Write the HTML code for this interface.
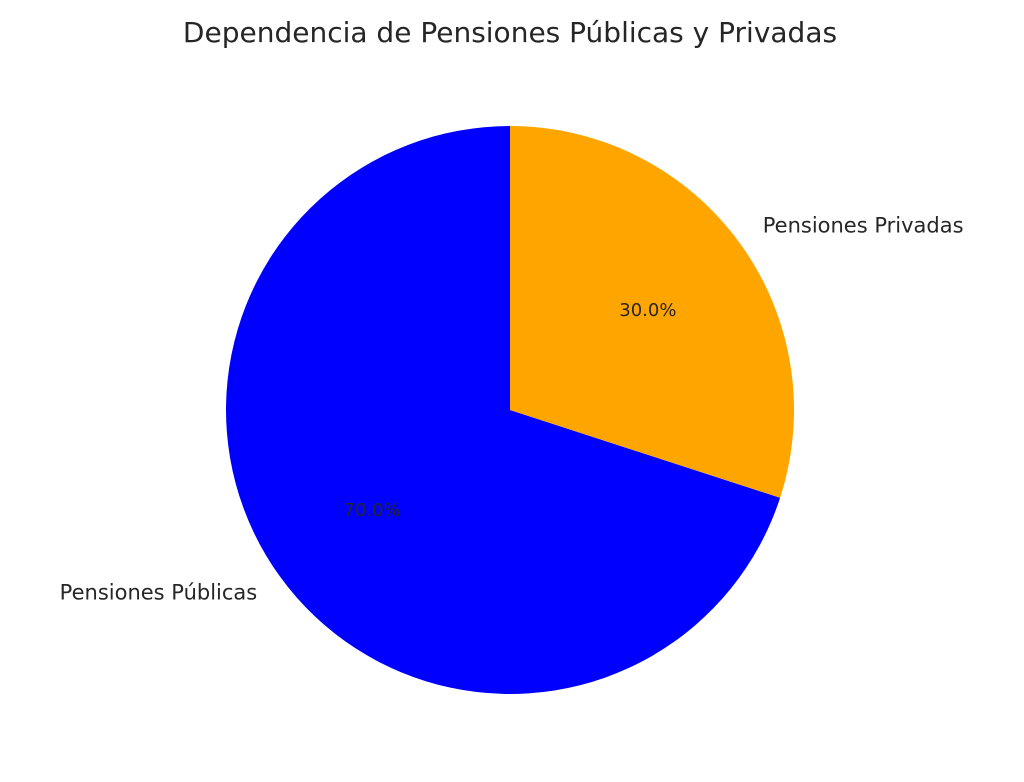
<!DOCTYPE html>
<html><head><meta charset="utf-8"><style>
html,body{margin:0;padding:0;background:#fff;}
svg{display:block;font-family:"DejaVu Sans","Liberation Sans",sans-serif;}
</style></head><body>
<svg id="chart" width="1024" height="782" viewBox="0 0 1024 782">
<text x="510" y="42" text-anchor="middle" font-size="28" fill="#262626">Dependencia de Pensiones Públicas y Privadas</text>
<g id="slices"></g>
</svg>
<script>
const categories = ["Pensiones Públicas", "Pensiones Privadas"];
const values = [70, 30];
const colors = ["#0000ff", "#ffa500"];
const cx = 510, cy = 410, R = 284, startAngle = 90;
const svg = document.getElementById('chart');
const g = document.getElementById('slices');
const NS = 'http://www.w3.org/2000/svg';
const total = values.reduce((a,b)=>a+b,0);
function pt(deg, r){const a=deg*Math.PI/180;return [cx+r*Math.cos(a), cy-r*Math.sin(a)];}
let ang = startAngle;
values.forEach((v,i)=>{
  const sweep = v/total*360;
  const a0=ang, a1=ang+sweep;
  const p0=pt(a0,R), p1=pt(a1,R);
  const large = sweep>180?1:0;
  const path=document.createElementNS(NS,'path');
  path.setAttribute('d',`M${cx},${cy} L${p0[0]},${p0[1]} A${R},${R} 0 ${large} 0 ${p1[0]},${p1[1]} Z`);
  path.setAttribute('fill',colors[i]);
  
  
  g.appendChild(path);
  const mid=(a0+a1)/2;
  const lp=pt(mid,R*1.1);
  const t=document.createElementNS(NS,'text');
  t.setAttribute('x',lp[0]);t.setAttribute('y',lp[1]+6);
  t.setAttribute('font-size','21');t.setAttribute('fill','#262626');
  t.setAttribute('text-anchor', Math.cos(mid*Math.PI/180)<0?'end':'start');
  t.textContent=categories[i];
  
  
  svg.appendChild(t);
  const pp=pt(mid,R*0.6);
  const tp=document.createElementNS(NS,'text');
  tp.setAttribute('x',pp[0]);tp.setAttribute('y',pp[1]+6);
  tp.setAttribute('font-size','18');tp.setAttribute('fill','#262626');
  tp.setAttribute('text-anchor','middle');
  tp.textContent=(v/total*100).toFixed(1)+'%';
  
  
  svg.appendChild(tp);
  ang=a1;
});
</script>
</body></html>
